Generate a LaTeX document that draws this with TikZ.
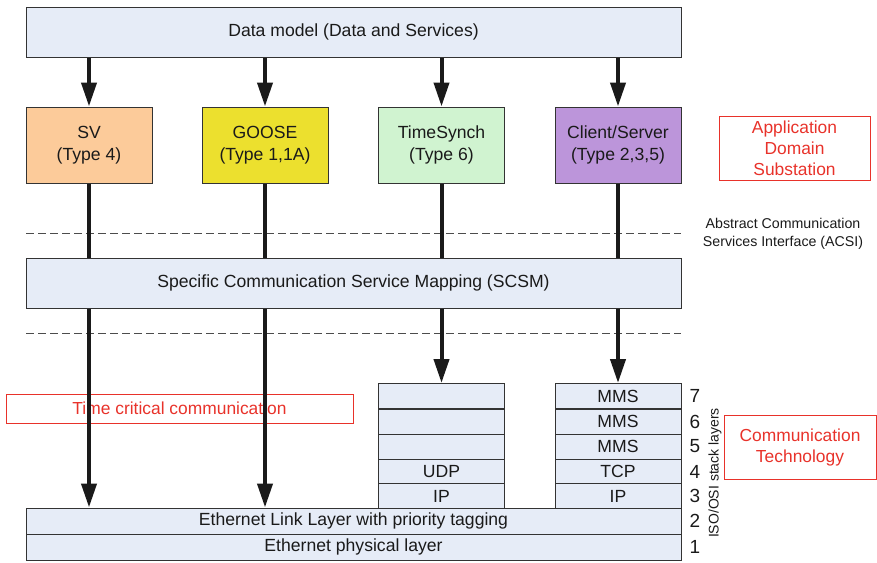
\documentclass[tikz,border=0pt]{standalone}
\usepackage{fontspec}
\setmainfont{Liberation Sans}
\usetikzlibrary{arrows.meta}
\definecolor{layerfill}{HTML}{E6ECF7}
\definecolor{svfill}{HTML}{FCCB9A}
\definecolor{goosefill}{HTML}{ECE02E}
\definecolor{tsfill}{HTML}{D0F3D0}
\definecolor{csfill}{HTML}{BC95DA}
\definecolor{edge}{HTML}{333333}
\definecolor{note}{HTML}{E8322A}
\definecolor{ink}{HTML}{1A1A1A}
\tikzset{
  box/.style={draw=edge, line width=1pt, inner sep=0pt, text=ink,
    font=\fontsize{17.6}{21.5}\selectfont, align=center},
  layer/.style={box, fill=layerfill, minimum width=655pt},
  svc/.style={box, minimum width=126pt, minimum height=76pt},
  row/.style={box, fill=layerfill, minimum width=126pt, minimum height=25pt},
  notebox/.style={draw=note, line width=1pt, text=note, inner sep=0pt,
    font=\fontsize{17.4}{21}\selectfont, align=center},
  flow/.style={draw=ink, line width=4pt},
  flowhead/.style={flow, -{Triangle[width=15pt,length=24pt]}},
  sep/.style={draw=black!70, line width=1pt, dash pattern=on 8pt off 4pt},
  layernum/.style={font=\fontsize{19}{20}\selectfont, text=ink, inner sep=0pt},
}
\begin{document}
\begin{tikzpicture}[x=1pt, y=-1pt]
\useasboundingbox (0,0) rectangle (877,562);

% service layer
\node[layer, minimum height=50pt] (dm) at (353.5,32) {Data model (Data and Services)};
\node[svc, fill=svfill]    (sv) at (89,145)    {SV\\(Type 4)};
\node[svc, fill=goosefill] (gs) at (265,145)   {GOOSE\\(Type 1,1A)};
\node[svc, fill=tsfill]    (ts) at (441.5,145) {TimeSynch\\(Type 6)};
\node[svc, fill=csfill]    (cs) at (618,145)   {Client/Server\\(Type 2,3,5)};
\node[notebox, minimum width=151pt, minimum height=64pt] (app) at (794.5,148)
  {Application\\Domain\\Substation};

% interface boundaries
\coordinate (d1l) at (26,233);  \coordinate (d1r) at (681,233);
\coordinate (d2l) at (26,333);  \coordinate (d2r) at (681,333);
\draw[sep] (d1l) -- (d1r);
\draw[sep] (d2l) -- (d2r);
\node[font=\fontsize{14.2}{18}\selectfont, text=ink, align=center] (acsi) at (783,234)
  {Abstract Communication\\Services Interface (ACSI)};

\node[layer, minimum height=50pt] (scsm) at (353.5,283)
  {Specific Communication Service Mapping (SCSM)};

% protocol stacks
\node[row] (ts7) at (441.5,396)   {};
\node[row] (ts6) at (441.5,421.5) {};
\node[row] (ts5) at (441.5,446.5) {};
\node[row] (ts4) at (441.5,471.5) {UDP};
\node[row] (ts3) at (441.5,496)   {IP};
\node[row] (cs7) at (618,396)     {MMS};
\node[row] (cs6) at (618,421.5)   {MMS};
\node[row] (cs5) at (618,446.5)   {MMS};
\node[row] (cs4) at (618,471.5)   {TCP};
\node[row] (cs3) at (618,496)     {IP};
\node[layer, minimum height=26pt] (link) at (353.5,521) {Ethernet Link Layer with priority tagging};
\node[layer, minimum height=26pt] (phy)  at (353.5,547) {Ethernet physical layer};

% layer numbers
\node[layernum] (n7) at (695,396)   {7};
\node[layernum] (n6) at (695,421.5) {6};
\node[layernum] (n5) at (695,446.5) {5};
\node[layernum] (n4) at (695,471.5) {4};
\node[layernum] (n3) at (695,496)   {3};
\node[layernum] (n2) at (695,521)   {2};
\node[layernum] (n1) at (695,547)   {1};
\node[rotate=90, font=\fontsize{14}{16}\selectfont, text=ink, inner sep=0pt] (iso) at (715,473)
  {ISO/OSI stack layers};
\node[notebox, minimum width=152pt, minimum height=64pt] (tech) at (800,447)
  {Communication\\Technology};

\node[notebox, minimum width=347pt, minimum height=29pt] (tcc) at (179.5,408.5)
  {Time critical communication};

% data flows
\draw[flowhead] (dm.south -| sv.north) -- (sv.north);
\draw[flowhead] (dm.south -| gs.north) -- (gs.north);
\draw[flowhead] (dm.south -| ts.north) -- (ts.north);
\draw[flowhead] (dm.south -| cs.north) -- (cs.north);
\draw[flow] (sv.south) -- (scsm.north -| sv.south);
\draw[flow] (gs.south) -- (scsm.north -| gs.south);
\draw[flow] (ts.south) -- (scsm.north -| ts.south);
\draw[flow] (cs.south) -- (scsm.north -| cs.south);
\draw[flowhead] (scsm.south -| sv.south) -- (link.north -| sv.south);
\draw[flowhead] (scsm.south -| gs.south) -- (link.north -| gs.south);
\draw[flowhead] (scsm.south -| ts7.north) -- (ts7.north);
\draw[flowhead] (scsm.south -| cs7.north) -- (cs7.north);
\end{tikzpicture}
\end{document}
